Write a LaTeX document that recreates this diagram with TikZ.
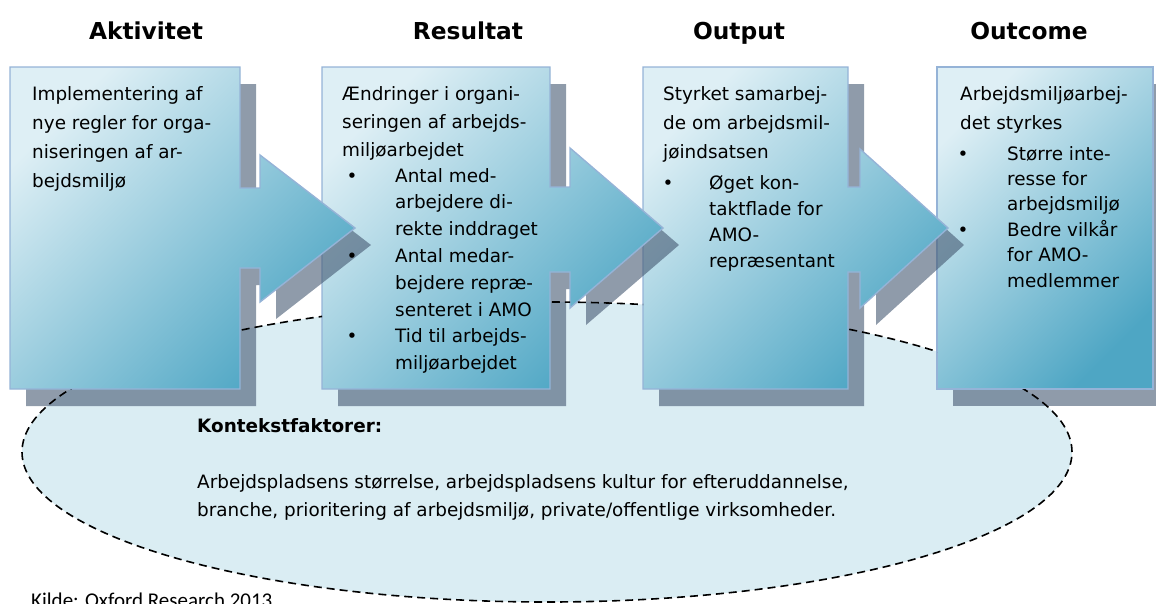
\documentclass[tikz,border=0pt]{standalone}
\usepackage{fontspec}
\setmainfont{DejaVu Sans}
\newfontfamily\kildefont{Carlito}
\definecolor{boxlight}{RGB}{222,239,245}
\definecolor{boxdark}{RGB}{78,166,196}
\definecolor{boxedge}{RGB}{149,179,215}
\definecolor{shadowc}{RGB}{68,88,113}
\definecolor{ellfill}{RGB}{218,237,243}
\newcommand\boxApath{(10,67) -- (240,67) -- (240,188) -- (260,188) -- (260,155) -- (355,228) -- (260,302) -- (260,268) -- (240,268) -- (240,389) -- (10,389) -- cycle}
\newcommand\boxBpath{(322,67) -- (550,67) -- (550,187) -- (570,187) -- (570,148) -- (663,228) -- (570,308) -- (570,272) -- (550,272) -- (550,389) -- (322,389) -- cycle}
\newcommand\boxCpath{(643,67) -- (848,67) -- (848,187) -- (860,187) -- (860,149) -- (948,228) -- (860,308) -- (860,272) -- (848,272) -- (848,389) -- (643,389) -- cycle}
\newcommand\boxDpath{(937,67) -- (1153,67) -- (1153,389) -- (937,389) -- cycle}
\begin{document}
\begin{tikzpicture}[x=1pt,y=-1pt,
  shadowfill/.style={fill=shadowc, fill opacity=0.6, draw=none},
  boxfill/.style={top color=boxlight, bottom color=boxdark, shading angle=45, draw=boxedge, line width=1.4pt, line join=miter},
  ctxline/.style={draw=black, line width=1.6pt, dash pattern=on 8pt off 5pt},
  hdr/.style={font=\fontsize{23.3}{28}\selectfont\bfseries, anchor=base, inner sep=0pt},
  para/.style={font=\fontsize{18.4}{29}\selectfont, anchor=base west, align=left, inner sep=0pt},
  bul/.style={font=\fontsize{18.4}{26}\selectfont, anchor=base, inner sep=0pt},
  btext/.style={anchor=base west, align=left, inner sep=0pt}
]
\useasboundingbox (0,0) rectangle (1156,603);
\clip (0,0) rectangle (1156,603);

% context ellipse fill
\fill[ellfill] (547,452) ellipse [x radius=525pt, y radius=150pt];

% boxes, back to front
\path[shadowfill, shift={(16,17)}] \boxDpath;
\shadedraw[boxfill] \boxDpath;
\path[shadowfill, shift={(16,17)}] \boxCpath;
\shadedraw[boxfill] \boxCpath;
\path[shadowfill, shift={(16,17)}] \boxBpath;
\shadedraw[boxfill] \boxBpath;
\path[shadowfill, shift={(16,17)}] \boxApath;
\shadedraw[boxfill] \boxApath;

% dashed outline of the context ellipse, hidden behind the boxes
\begin{scope}[even odd rule]
\clip (-20,-20) rectangle (1180,640) \boxApath \boxBpath \boxCpath \boxDpath;
\draw[ctxline] (547,452) ellipse [x radius=525pt, y radius=150pt];
\end{scope}

% headers
\node[hdr] (h1) at (146,39) {Aktivitet};
\node[hdr] (h2) at (468,39) {Resultat};
\node[hdr] (h3) at (739,39) {Output};
\node[hdr] (h4) at (1029,39) {Outcome};

% (multi-line nodes are placed by the baseline of their last line)
% box 1
\node[para] (t1) at (32,187) {Implementering af\\nye regler for orga-\\niseringen af ar-\\bejdsmiljø};

% box 2
\node[para, font=\fontsize{18.4}{28}\selectfont] (t2) at (342,156) {Ændringer i organi-\\seringen af arbejds-\\miljøarbejdet};
\node[bul] (b2a) at (352,182) {•};
\node[btext, font=\fontsize{18.4}{26.8}\selectfont] (t2a) at (395,235.6) {Antal med-\\arbejdere di-\\rekte inddraget};
\node[bul] (b2b) at (352,262.4) {•};
\node[btext, font=\fontsize{18.4}{26.8}\selectfont] (t2b) at (395,316) {Antal medar-\\bejdere repræ-\\senteret i AMO};
\node[bul] (b2c) at (352,342.8) {•};
\node[btext, font=\fontsize{18.4}{26.8}\selectfont] (t2c) at (395,369.6) {Tid til arbejds-\\miljøarbejdet};

% box 3
\node[para] (t3) at (663,158) {Styrket samarbej-\\de om arbejdsmil-\\jøindsatsen};
\node[bul] (b3a) at (668,189) {•};
\node[btext, font=\fontsize{18.4}{26}\selectfont] (t3a) at (709,267) {Øget kon-\\taktflade for\\AMO-\\repræsentant};

% box 4
\node[para] (t4) at (960,129) {Arbejdsmiljøarbej-\\det styrkes};
\node[bul] (b4a) at (963,160) {•};
\node[btext, font=\fontsize{18.4}{25.4}\selectfont] (t4a) at (1007,210.8) {Større inte-\\resse for\\arbejdsmiljø};
\node[bul] (b4b) at (963,236.2) {•};
\node[btext, font=\fontsize{18.4}{25.4}\selectfont] (t4b) at (1007,287) {Bedre vilkår\\for AMO-\\medlemmer};

% context factors
\node[anchor=base west, inner sep=0pt, font=\fontsize{18.4}{27}\selectfont\bfseries] (kf) at (197,432) {Kontekstfaktorer:};
\node[para, font=\fontsize{18.4}{28.5}\selectfont] (kt) at (197,516.5) {Arbejdspladsens størrelse, arbejdspladsens kultur for efteruddannelse,\\branche, prioritering af arbejdsmiljø, private/offentlige virksomheder.};

% source
\node[anchor=base west, inner sep=0pt, font=\kildefont\fontsize{21}{25}\selectfont] (kilde) at (31,607) {Kilde: Oxford Research 2013};
\end{tikzpicture}
\end{document}
